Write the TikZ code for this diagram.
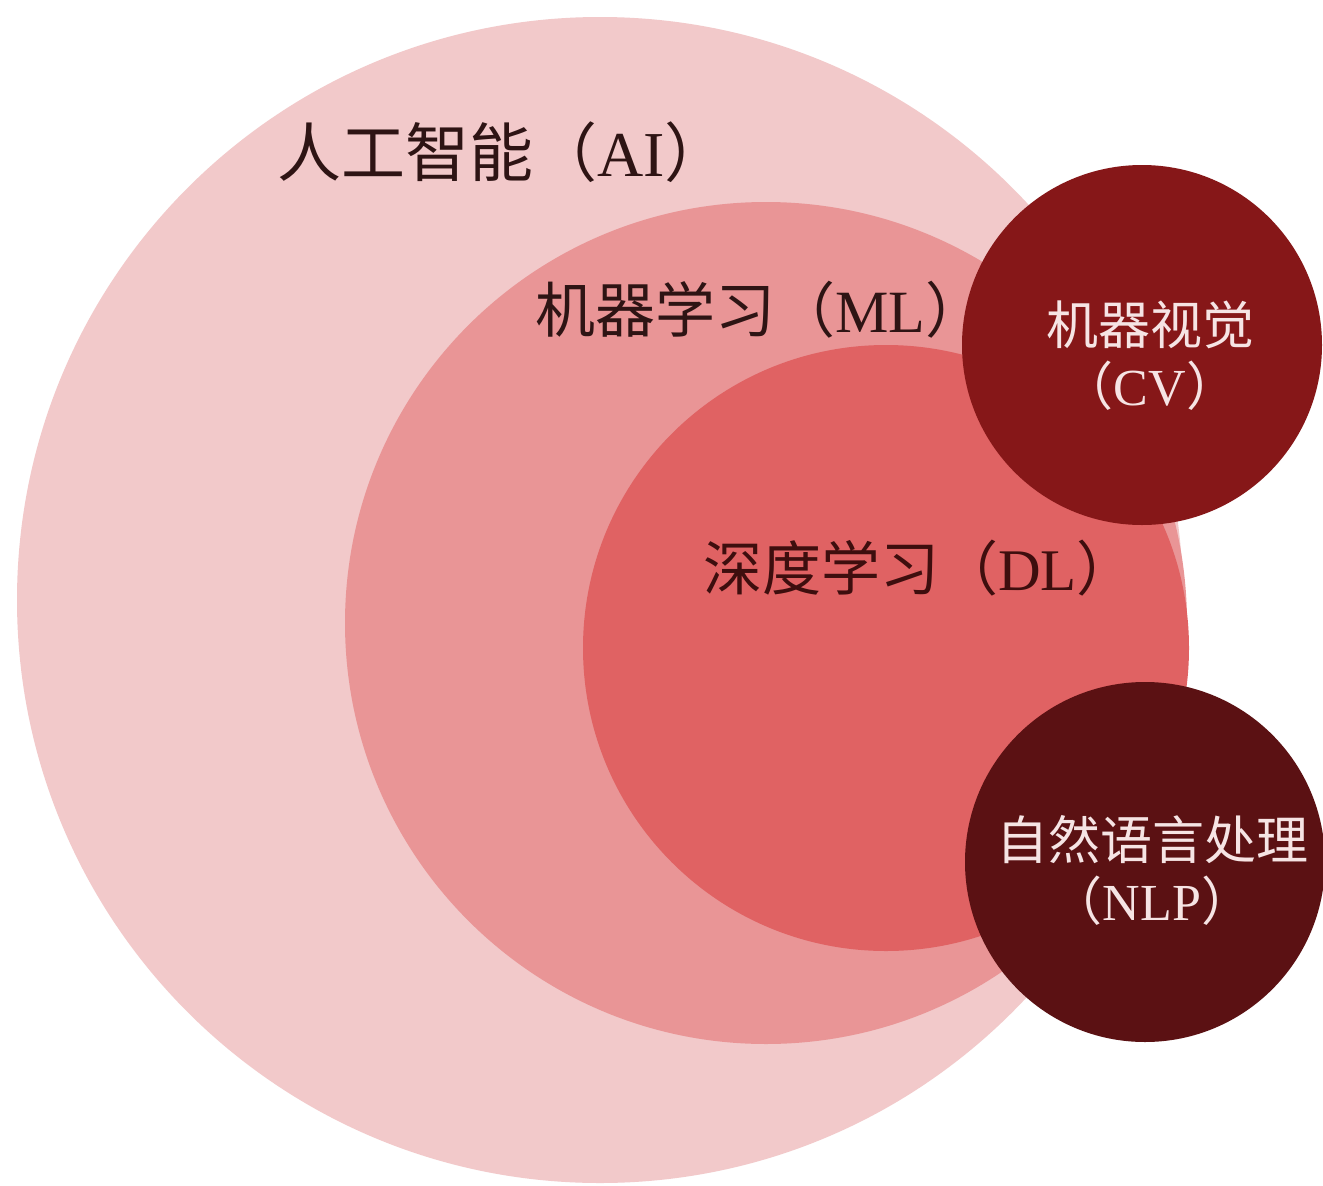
\documentclass[tikz,border=0pt]{standalone}
\usepackage{fontspec}
\setmainfont{Liberation Serif}
\newfontfamily\cjk{Noto Sans CJK SC}
\definecolor{aicol}{HTML}{F2C9CA}
\definecolor{mlcol}{HTML}{E99596}
\definecolor{dlcol}{HTML}{E06263}
\definecolor{cvcol}{HTML}{861718}
\definecolor{nlpcol}{HTML}{5B1113}
\definecolor{inkdark}{HTML}{2E1414}
\definecolor{inkdl}{HTML}{3E0E0E}
\definecolor{inklight}{HTML}{F6E4E4}
\begin{document}
\begin{tikzpicture}[x=1pt,y=-1pt,
  biglab/.style={inner sep=0pt, text=inkdark, anchor=base west},
  smalllab/.style={inner sep=0pt, text=inklight, align=center,
    font=\fontsize{52}{61}\selectfont}]
\useasboundingbox (0,0) rectangle (1323,1186);
\fill[white] (0,0) rectangle (1323,1186);
% circles
\fill[aicol] (600,600) circle[radius=583];
\fill[mlcol] (766,623) circle[radius=421];
\fill[dlcol] (886,648) circle[radius=303];
\fill[cvcol] (1142,345) circle[radius=180];
\fill[nlpcol] (1145,862) circle[radius=180];
% labels
\node[biglab, font=\fontsize{64}{70}\selectfont] (ai) at (277,176)
  {{\cjk 人工智能（}AI{\cjk ）}};
\node[biglab, font=\fontsize{60}{66}\selectfont] (ml) at (535,332)
  {{\cjk 机器学习（}ML{\cjk ）}};
\node[biglab, text=inkdl, font=\fontsize{59}{65}\selectfont] (dl) at (703,590)
  {{\cjk 深度学习（}DL{\cjk ）}};
\node[smalllab] (cv) at (1150,356)
  {{\cjk 机器视觉}\\{\cjk （}CV{\cjk ）}};
\node[smalllab] (nlp) at (1152,870)
  {{\cjk 自然语言处理}\\{\cjk （}NLP{\cjk ）}};
\end{tikzpicture}
\end{document}
